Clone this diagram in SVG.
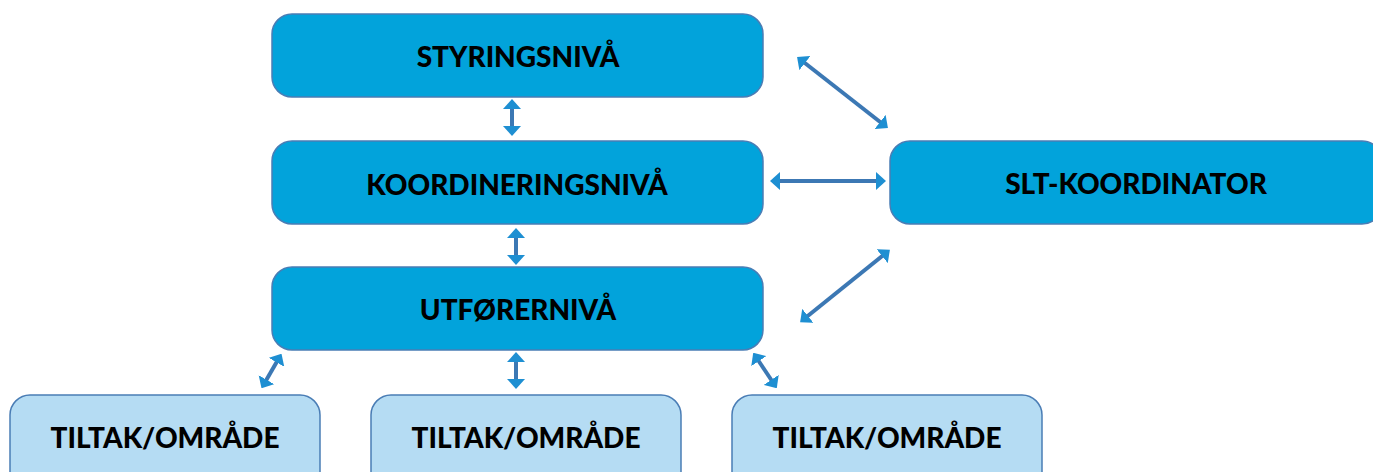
<svg xmlns="http://www.w3.org/2000/svg" width="1373" height="472" viewBox="0 0 1373 472">
<defs>
<style>
.main{fill:#02A3DB;stroke:#4A7DB5;stroke-width:1.5}
.sub{fill:#B5DCF3;stroke:#4A7DB5;stroke-width:1.5}
.t{font-family:"Source Sans Pro","Lato","Liberation Sans",sans-serif;font-weight:900;font-size:28px;fill:#000;text-anchor:middle;dominant-baseline:central}
.c{stroke:#3C78B4;stroke-width:4;fill:none;marker-start:url(#ah);marker-end:url(#ah)}
</style>
<marker id="ah" viewBox="0 0 10 18" refX="5" refY="9" markerWidth="10" markerHeight="18" orient="auto-start-reverse" markerUnits="userSpaceOnUse">
<path d="M0,0 L10,9 L0,18 Z" fill="#1E8FD2"/>
</marker>
</defs>
<rect width="1373" height="472" fill="#fff"/>
<g id="connectors">
<line class="c" x1="512" y1="104" x2="512" y2="131"/>
<line class="c" x1="516" y1="233" x2="516" y2="260"/>
<line class="c" x1="801" y1="60" x2="884" y2="125"/>
<line class="c" x1="775" y1="181" x2="881" y2="181"/>
<line class="c" x1="886" y1="253" x2="804" y2="319"/>
<line class="c" x1="279" y1="358" x2="264" y2="384"/>
<line class="c" x1="516" y1="357" x2="516" y2="384"/>
<line class="c" x1="756" y1="357" x2="774" y2="384"/>
</g>
<g id="styringsniva">
<rect class="main" x="272" y="14" width="491" height="83" rx="20"/>
<text class="t" x="518" y="56">STYRINGSNIVÅ</text>
</g>
<g id="koordineringsniva">
<rect class="main" x="272" y="141" width="491" height="83" rx="20"/>
<text class="t" x="517" y="184">KOORDINERINGSNIVÅ</text>
</g>
<g id="utforerniva">
<rect class="main" x="272" y="267" width="491" height="83" rx="20"/>
<text class="t" x="518" y="309">UTFØRERNIVÅ</text>
</g>
<g id="slt-koordinator">
<rect class="main" x="890" y="141" width="492" height="83" rx="20"/>
<text class="t" x="1136" y="183">SLT-KOORDINATOR</text>
</g>
<g id="tiltak1">
<rect class="sub" x="10" y="395" width="310" height="100" rx="20"/>
<text class="t" x="165" y="437">TILTAK/OMRÅDE</text>
</g>
<g id="tiltak2">
<rect class="sub" x="371" y="395" width="310" height="100" rx="20"/>
<text class="t" x="526" y="437">TILTAK/OMRÅDE</text>
</g>
<g id="tiltak3">
<rect class="sub" x="732" y="395" width="310" height="100" rx="20"/>
<text class="t" x="887" y="437">TILTAK/OMRÅDE</text>
</g>
</svg>
